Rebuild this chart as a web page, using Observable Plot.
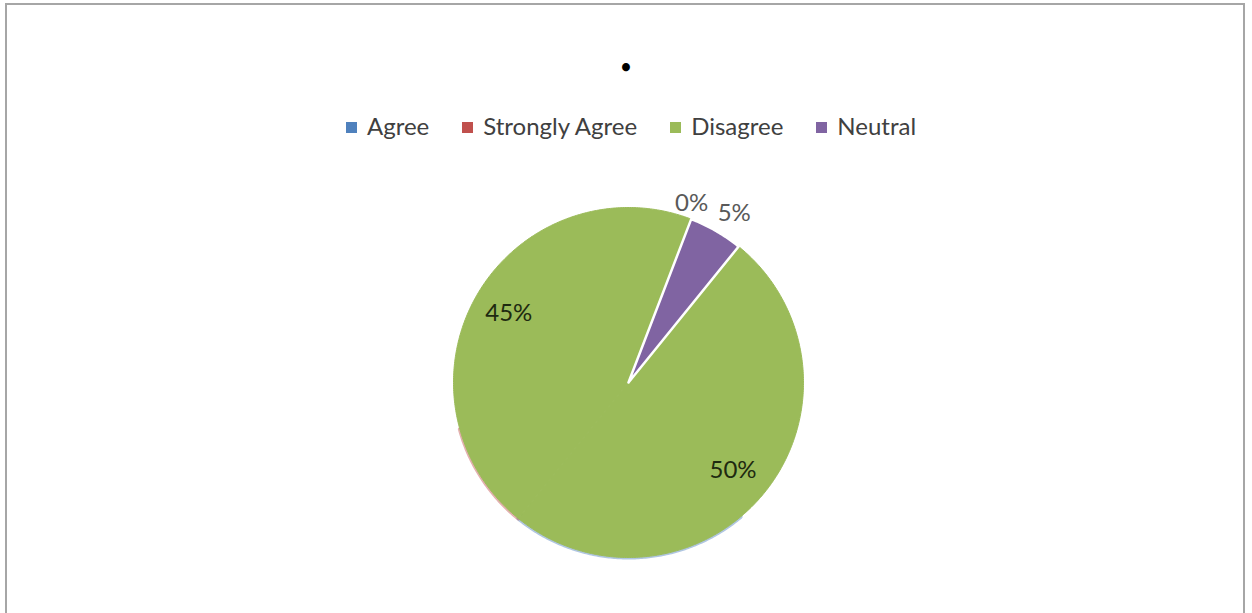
<!DOCTYPE html>
<html>
<head>
<meta charset="utf-8">
<script src="https://cdn.jsdelivr.net/npm/d3@7"></script>
<script src="https://cdn.jsdelivr.net/npm/@observablehq/plot@0.6"></script>
<style>
  html, body { margin: 0; padding: 0; background: #fff; overflow: hidden; }
  #frame { position: absolute; left: 5px; top: 3px; width: 1240px; height: 700px;
           border: 2px solid #a6a6a6; box-sizing: border-box; }
  #chart { position: absolute; left: 0; top: 0; }
  #title { position: absolute; left: 0; width: 1252px; top: 54px; text-align: center;
           font-family: Lato, sans-serif; font-size: 18px; font-weight: bold; color: #000; line-height: 24px; }
  #legend { position: absolute; left: 0; width: 1252px; top: 111px; display: flex; justify-content: center;
            gap: 33px; font-family: Lato, sans-serif; font-size: 24px; color: #404040; line-height: 30px; padding-left: 10px; box-sizing: border-box; }
  .item { display: flex; align-items: center; }
  .sw { width: 11px; height: 11px; margin-right: 10px; margin-top: 2px; }
</style>
</head>
<body>
<div id="chart"></div>
<div id="frame"></div>
<div id="title">•</div>
<div id="legend"></div>
<script>
// ---- data ----
const categories = ["Agree", "Strongly Agree", "Disagree", "Neutral"];
const values = [50, 45, 0, 5];
const labels = ["50%", "45%", "0%", "5%"];
const legendColors = ["#4F81BD", "#C0504D", "#9BBB59", "#8064A2"];
const fillColors = ["#9BBB59", "#9BBB59", "#9BBB59", "#8064A2"];

// ---- layout ----
const W = 1252, H = 613;
const cx = 628, cy = 382, R = 175;
const startDeg = 39;
// [radius factor, angle offset in degrees] for each label
const labelPolar = {"Agree": [0.78, 1], "Strongly Agree": [0.79, 0], "Disagree": [1.085, -1.6], "Neutral": [1.14, 2]};
const labelColor = {"Agree": "#1e2a10", "Strongly Agree": "#1e2a10", "Disagree": "#595959", "Neutral": "#595959"};
const rad = Math.PI / 180;

const pie = d3.pie().sort(null).value(d => d.value)
  .startAngle(startDeg * rad).endAngle(startDeg * rad + 2 * Math.PI);
const rows = categories.map((c, i) => ({key: c, value: values[i], label: labels[i], fill: fillColors[i], edge: legendColors[i]}));
const arcs = pie(rows);

// polygon vertices in pie units (radius = 1)
const poly = [];
const edges = [];
arcs.forEach(a => {
  if (a.endAngle - a.startAngle <= 0) return;
  const n = Math.max(2, Math.ceil((a.endAngle - a.startAngle) / 0.01));
  poly.push({key: a.data.key, fill: a.data.fill, x: 0, y: 0});
  for (let k = 0; k <= n; k++) {
    const t = a.startAngle + (a.endAngle - a.startAngle) * k / n;
    const p = {key: a.data.key, fill: a.data.fill, edge: a.data.edge, x: Math.sin(t), y: Math.cos(t)};
    poly.push(p);
    const deg = ((t / rad) % 360 + 360) % 360;
    if (deg > 140 && deg < 255) edges.push(p);
  }
  poly.push({key: a.data.key, fill: a.data.fill, x: 0, y: 0});
});
const labelPts = arcs.map(a => {
  const [r, off] = labelPolar[a.data.key];
  const m = (a.startAngle + a.endAngle) / 2 + off * rad;
  return {key: a.data.key, label: a.data.label, x: r * Math.sin(m), y: r * Math.cos(m), color: labelColor[a.data.key]};
});

const plot = Plot.plot({
  width: W, height: H,
  margin: 0,
  x: {domain: [-cx / R, (W - cx) / R], axis: null},
  y: {domain: [-(H - cy) / R, cy / R], axis: null},
  color: {type: "identity"},
  style: {background: "transparent", overflow: "visible"},
  marks: [
    Plot.line(edges, {x: "x", y: "y", z: "key", stroke: "edge", strokeWidth: 4, strokeOpacity: 0.45, curve: "linear"}),
    Plot.line(poly.filter(d => d.key !== "Neutral"), {x: "x", y: "y", z: "key", fill: "fill", stroke: "fill", strokeWidth: 1, curve: "linear"}),
    Plot.line(poly.filter(d => d.key === "Neutral"), {x: "x", y: "y", z: "key", fill: "fill", stroke: "#ffffff", strokeWidth: 2.5, strokeLinejoin: "round", curve: "linear"}),
    Plot.text(labelPts, {x: "x", y: "y", text: "label", fill: "color", fontSize: 24, fontFamily: "Lato, sans-serif"})
  ]
});
document.getElementById("chart").appendChild(plot);

// legend
const leg = document.getElementById("legend");
categories.forEach((c, i) => {
  const it = document.createElement("div");
  it.className = "item";
  it.innerHTML = `<span class="sw" style="background:${legendColors[i]}"></span><span>${c}</span>`;
  leg.appendChild(it);
});
</script>
</body>
</html>
